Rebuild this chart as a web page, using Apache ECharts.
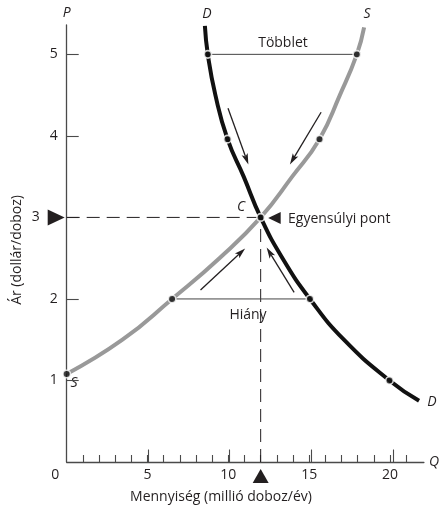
<!DOCTYPE html>
<html>
<head>
<meta charset="utf-8">
<script src="https://cdn.jsdelivr.net/npm/echarts@6/dist/echarts.min.js"></script>
<style>
html,body{margin:0;padding:0;background:#fff;}
#c{width:442px;height:511px;}
</style>
</head>
<body>
<div id="c"></div>
<script>
// ---- data ----
const demandCurve = [[8.55,5.35],[8.73,5.0],[9.2,4.5],[9.95,3.96],[10.95,3.5],[12,3],[13.35,2.5],[15.05,2.0],[17.15,1.5],[19.97,1.0],[21.8,0.75]];
const supplyCurve = [[0,1.08],[3.45,1.5],[6.52,2.0],[9.45,2.5],[12,3],[13.95,3.5],[15.64,3.96],[16.9,4.5],[17.95,5.0],[18.4,5.33]];
const demandDots = [[8.73,5.0],[9.95,3.96],[15.05,2.0],[19.97,1.0]];
const supplyDots = [[0,1.08],[6.52,2.0],[15.64,3.96],[17.95,5.0]];
const equilibrium = [12,3];
const surplusLine = [[8.73,5.0],[17.95,5.0]];
const shortageLine = [[6.52,2.0],[15.05,2.0]];
const arrows = [[9.98,4.34,11.24,3.65],[15.74,4.29,13.81,3.65],[8.28,2.11,11.04,2.62],[14.07,2.08,12.37,2.63]];
const xMinorTicks = [1,2,3,4,5,6,7,8,9,10,11,12,13,14,15,16,17,18,19,20,21];
const xMajorTicks = [5,10,15,20];
const xTickLabels = [0,5,10,15,20];
const yTicks = [1,2,3,4,5];
const yTickLabels = [1,2,3,4,5];

const FONT = '"Open Sans", "Noto Sans", sans-serif';
const INK = '#231f20';
const AXIS = '#4a4a4a';

const chart = echarts.init(document.getElementById('c'), null, {renderer:'canvas'});

const gridBox = {left:66.7, right:15, top:25, bottom:49, containLabel:false};
const X_MAX = 22.1, Y_MAX = 5.36;

const option = {
  animation:false,
  backgroundColor:'#fff',
  grid:[Object.assign({}, gridBox), Object.assign({}, gridBox)],
  xAxis:[
    {type:'value', min:0, max:X_MAX, gridIndex:0, position:'bottom',
      name:'Q', nameLocation:'end', nameGap:5,
      nameTextStyle:{fontFamily:FONT, fontSize:14, fontStyle:'italic', color:INK},
      axisLine:{show:true, onZero:false, lineStyle:{color:AXIS, width:1.3}},
      axisTick:{show:true, inside:true, length:7, customValues:xMinorTicks, lineStyle:{color:AXIS, width:1.1}},
      axisLabel:{show:true, customValues:xTickLabels, margin:6, fontFamily:FONT, fontSize:14, color:INK,
        formatter:v => v===0 ? '{o|0}' : String(v),
        rich:{o:{fontFamily:FONT, fontSize:14, color:INK, padding:[0,23,0,0]}}},
      splitLine:{show:false}
    },
    {type:'value', min:0, max:X_MAX, gridIndex:1, position:'bottom',
      axisLine:{show:false, onZero:false},
      axisTick:{show:true, inside:true, length:12.5, customValues:xMajorTicks, lineStyle:{color:AXIS, width:1.1}},
      axisLabel:{show:false},
      splitLine:{show:false}
    }
  ],
  yAxis:[
    {type:'value', min:0, max:Y_MAX, gridIndex:0, position:'left',
      name:'P', nameLocation:'end', nameGap:5,
      nameTextStyle:{fontFamily:FONT, fontSize:14, fontStyle:'italic', color:INK, align:'center'},
      axisLine:{show:true, onZero:false, lineStyle:{color:AXIS, width:1.3}},
      axisTick:{show:true, inside:true, length:12, customValues:yTicks, lineStyle:{color:AXIS, width:1.1}},
      axisLabel:{show:true, customValues:yTickLabels, margin:9, fontFamily:FONT, fontSize:14, color:INK,
        formatter:v => v===3 ? '{t|3}' : String(v),
        rich:{t:{fontFamily:FONT, fontSize:14, color:INK, padding:[0,18,0,0]}}},
      splitLine:{show:false}
    },
    {type:'value', min:0, max:Y_MAX, gridIndex:1, show:false}
  ],
  graphic:[
    {type:'text', x:17, y:250, rotation:Math.PI/2, style:{text:'Ár (dollár/doboz)', font:'14px '+FONT, fill:INK, align:'center', verticalAlign:'middle'}},
    {type:'text', x:221, y:497, style:{text:'Mennyiség (millió doboz/év)', font:'14px '+FONT, fill:INK, align:'center', verticalAlign:'middle'}},
    {type:'text', x:207, y:14, style:{text:'D', font:'italic 14px '+FONT, fill:INK, align:'center', verticalAlign:'middle'}},
    {type:'text', x:367, y:14, style:{text:'S', font:'italic 14px '+FONT, fill:INK, align:'center', verticalAlign:'middle'}},
    {type:'text', x:283, y:43, style:{text:'Többlet', font:'14px '+FONT, fill:INK, align:'center', verticalAlign:'middle'}},
    {type:'text', x:241, y:207, style:{text:'C', font:'italic 14px '+FONT, fill:INK, align:'center', verticalAlign:'middle'}},
    {type:'text', x:288, y:219, style:{text:'Egyensúlyi pont', font:'14px '+FONT, fill:INK, align:'left', verticalAlign:'middle'}},
    {type:'text', x:248, y:315, style:{text:'Hiány', font:'14px '+FONT, fill:INK, align:'center', verticalAlign:'middle'}},
    {type:'text', x:432, y:402, style:{text:'D', font:'italic 14px '+FONT, fill:INK, align:'center', verticalAlign:'middle'}},
    {type:'text', x:74, y:383, style:{text:'S', font:'italic 14px '+FONT, fill:INK, align:'center', verticalAlign:'middle'}}
  ],
  series:[
    {type:'line', name:'eqH', data:[[0,equilibrium[1]], equilibrium], symbol:'none', silent:true,
      lineStyle:{color:INK, width:1, type:[13,7]}, z:1},
    {type:'line', name:'eqV', data:[[equilibrium[0],0], equilibrium], symbol:'none', silent:true,
      lineStyle:{color:INK, width:1, type:[13,7]}, z:1},
    {type:'line', name:'surplus', data:surplusLine, symbol:'none', lineStyle:{color:'#444', width:1}, z:1},
    {type:'line', name:'shortage', data:shortageLine, symbol:'none', lineStyle:{color:'#444', width:1}, z:1},
    {type:'line', name:'S', data:supplyCurve, symbol:'none', smooth:0.5,
      lineStyle:{color:'#999999', width:4, cap:'butt'}, z:2},
    {type:'line', name:'D', data:demandCurve, symbol:'none', smooth:0.5,
      lineStyle:{color:'#111', width:4, cap:'butt'}, z:3},
    {type:'scatter', name:'dots', data:demandDots.concat(supplyDots, [equilibrium]), symbol:'circle', symbolSize:7.5, clip:false,
      itemStyle:{color:'#111', borderColor:'#fff', borderWidth:1.6}, z:5},
    {type:'custom', name:'arrows', data:arrows, clip:false, z:4,
      renderItem:function(params, api){
        const a = api.coord([api.value(0), api.value(1)]);
        const b = api.coord([api.value(2), api.value(3)]);
        const dx=b[0]-a[0], dy=b[1]-a[1], L=Math.hypot(dx,dy), ux=dx/L, uy=dy/L;
        const hl=11, hw=3.2;
        const base=[b[0]-ux*hl, b[1]-uy*hl];
        const notch=[b[0]-ux*(hl-2.5), b[1]-uy*(hl-2.5)];
        const l=[base[0]-uy*hw, base[1]+ux*hw], r=[base[0]+uy*hw, base[1]-ux*hw];
        return {type:'group', children:[
          {type:'line', shape:{x1:a[0],y1:a[1],x2:notch[0],y2:notch[1]}, style:{stroke:INK, lineWidth:1.3}},
          {type:'polygon', shape:{points:[b,l,notch,r]}, style:{fill:INK}}
        ]};
      }},
    {type:'custom', name:'markers', data:[[0,equilibrium[1],0],[equilibrium[0],0,1],[equilibrium[0],equilibrium[1],2]], clip:false, z:6,
      renderItem:function(params, api){
        const p = api.coord([api.value(0), api.value(1)]);
        const k = api.value(2);
        let pts;
        if(k===0){ pts=[[p[0]-2,p[1]],[p[0]-19,p[1]-8],[p[0]-19,p[1]+8]]; }
        else if(k===1){ pts=[[p[0],p[1]+7],[p[0]-8,p[1]+21],[p[0]+8,p[1]+21]]; }
        else { pts=[[p[0]+7.5,p[1]+0.5],[p[0]+20,p[1]-5.5],[p[0]+20,p[1]+6.5]]; }
        return {type:'polygon', shape:{points:pts}, style:{fill:INK}};
      }}
  ]
};
chart.setOption(option);
</script>
</body>
</html>
